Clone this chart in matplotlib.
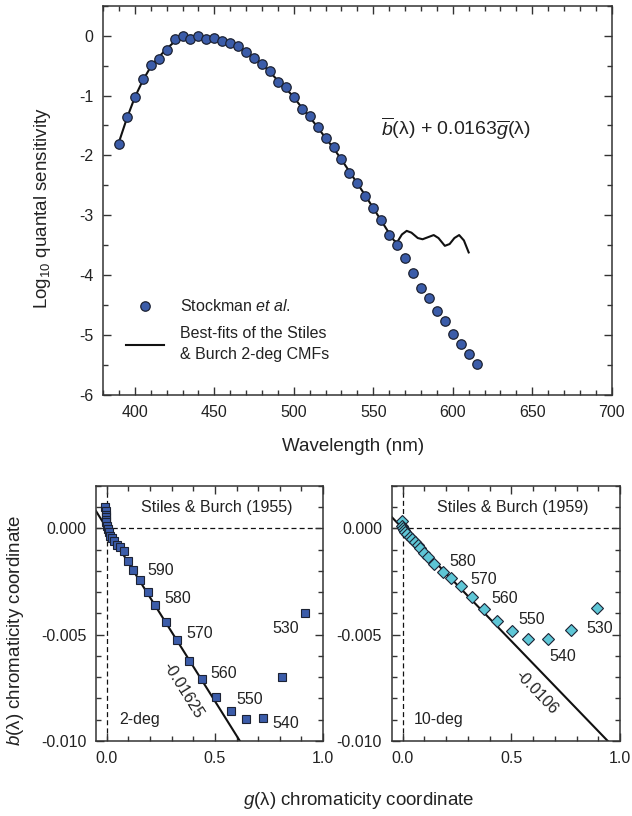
import numpy as np
import matplotlib
matplotlib.use('Agg')
import matplotlib.pyplot as plt
from matplotlib.ticker import MultipleLocator, FormatStrFormatter

plt.rcParams['font.family'] = ['Liberation Sans', 'DejaVu Sans']
plt.rcParams['mathtext.fontset'] = 'custom'
plt.rcParams['mathtext.rm'] = 'Liberation Sans'
plt.rcParams['mathtext.it'] = 'Liberation Sans:italic'
plt.rcParams['axes.unicode_minus'] = False

# top panel: measured log quantal sensitivity (points) and best fit (line)
wl_pts = [390, 395, 400, 405, 410, 415, 420, 425, 430, 435, 440, 445, 450, 455,
          460, 465, 470, 475, 480, 485, 490, 495, 500, 505, 510, 515, 520, 525,
          530, 535, 540, 545, 550, 555, 560, 565, 570, 575, 580, 585, 590, 595,
          600, 605, 610, 615]
log_pts = [-1.805, -1.36, -1.025, -0.73, -0.49, -0.385, -0.234, -0.05, 0.0, -0.05,
           0.0, -0.05, -0.045, -0.095, -0.117, -0.18, -0.28, -0.38, -0.47, -0.59,
           -0.77, -0.85, -1.025, -1.225, -1.35, -1.53, -1.715, -1.86, -2.06, -2.295,
           -2.46, -2.68, -2.875, -3.08, -3.33, -3.5, -3.72, -3.97, -4.21, -4.38,
           -4.6, -4.76, -4.975, -5.15, -5.32, -5.49]

wl_fit = [390, 395, 400, 405, 410, 415, 420, 425, 430, 435, 440, 445, 450, 455,
          460, 465, 470, 475, 480, 485, 490, 495, 500, 505, 510, 515, 520, 525,
          530, 535, 540, 545, 550, 555, 560, 563, 565, 568, 571, 574, 578, 581,
          585, 588, 591, 595, 598, 601, 604, 607, 610]
log_fit = [-1.78, -1.38, -1.03, -0.75, -0.52, -0.36, -0.22, -0.1, -0.03, 0.0,
           -0.01, -0.03, -0.05, -0.08, -0.12, -0.18, -0.27, -0.37, -0.48, -0.61,
           -0.75, -0.88, -1.03, -1.2, -1.36, -1.53, -1.71, -1.88, -2.07, -2.27,
           -2.47, -2.67, -2.88, -3.09, -3.3, -3.42, -3.45, -3.32, -3.26, -3.29,
           -3.38, -3.40, -3.36, -3.33, -3.38, -3.51, -3.48, -3.38, -3.33, -3.42, -3.62]

# bottom panels: chromaticity coordinates
g2 = [-0.008, -0.005, -0.005, -0.003, -0.006, -0.002, 0.002, 0.005, 0.008, 0.014,
      0.025, 0.035, 0.048, 0.061, 0.077, 0.098, 0.123, 0.155, 0.189, 0.224,
      0.275, 0.325, 0.378, 0.439, 0.504, 0.576, 0.645, 0.723, 0.811, 0.915]
b2 = [0.00102, 0.00083, 0.00064, 0.00052, 0.00039, 0.00028, 0.00013, -0.00003,
      -0.00019, -0.00034, -0.00045, -0.00058, -0.00077, -0.00089, -0.00105,
      -0.00152, -0.00194, -0.00242, -0.00298, -0.00362, -0.00441, -0.00523,
      -0.00623, -0.00709, -0.00795, -0.00859, -0.00898, -0.00890, -0.00697, -0.00397]
lab2 = ['590', '580', '570', '560', '550', '540', '530']
lab2_idx = [17, 19, 21, 23, 25, 27, 29]
slope2 = -0.01625

g10 = [-0.005, -0.003, 0.0, 0.004, 0.012, 0.022, 0.034, 0.045, 0.057, 0.069,
       0.081, 0.100, 0.118, 0.146, 0.184, 0.224, 0.267, 0.318, 0.372, 0.436,
       0.501, 0.578, 0.667, 0.776, 0.894]
b10 = [0.00036, 0.00012, 0.0, -0.00008, -0.00016, -0.00027, -0.00039, -0.00050,
       -0.00064, -0.00080, -0.00094, -0.00116, -0.00134, -0.00167, -0.00203,
       -0.00234, -0.00273, -0.00322, -0.00377, -0.00434, -0.00484, -0.00520,
       -0.00519, -0.00477, -0.00375]
lab10 = ['580', '570', '560', '550', '540', '530']
lab10_idx = [14, 16, 18, 20, 22, 24]
slope10 = -0.0106

blue = '#3b5ca9'
cyan = '#5ec6d6'
edge = '#1c2233'
axcol = '#333333'
tick_fs = 11.5
lab_fs = 13.5

fig = plt.figure(figsize=(6.32, 8.16), dpi=100)


def style_axes(ax):
    for s in ax.spines.values():
        s.set_color(axcol)
        s.set_linewidth(1.1)
    ax.tick_params(which='both', direction='in', top=True, right=True,
                   color=axcol, labelcolor='#222222', labelsize=tick_fs, pad=7)
    ax.tick_params(which='major', length=6, width=1)
    ax.tick_params(which='minor', length=3.5, width=1)


# ---- top panel
ax = fig.add_axes([0.163, 0.516, 0.805, 0.477])
ax.plot(wl_fit, log_fit, color='#111111', lw=1.5, zorder=2,
        label='Best-fits of the Stiles\n& Burch 2-deg CMFs')
ax.plot(wl_pts, log_pts, 'o', ms=6.8, mfc=blue, mec=edge, mew=0.9, zorder=3,
        label='Stockman $\\mathit{et\\ al.}$')
ax.set_xlim(380, 700)
ax.set_ylim(-6, 0.5)
ax.xaxis.set_major_locator(MultipleLocator(50))
ax.xaxis.set_minor_locator(MultipleLocator(10))
ax.yaxis.set_major_locator(MultipleLocator(1))
ax.yaxis.set_minor_locator(MultipleLocator(0.5))
style_axes(ax)
ax.text(555, -1.55, r'$\overline{\mathit{b}}$(λ) + 0.0163$\overline{\mathit{g}}$(λ)',
        fontsize=14, va='center', ha='left', color='#222222')
h, l = ax.get_legend_handles_labels()
leg = ax.legend(h[::-1], l[::-1], loc='lower left', bbox_to_anchor=(0.045, 0.085),
                frameon=False, fontsize=tick_fs, handlelength=2.4, handletextpad=1.0,
                borderpad=0, borderaxespad=0, labelspacing=0.75, labelcolor='#222222')
for t in leg.get_texts():
    t.set_linespacing(1.45)

fig.text(0.559, 0.453, 'Wavelength (nm)', fontsize=lab_fs, ha='center', va='center',
         color='#222222')
fig.text(0.068, 0.745, 'Log$_{10}$ quantal sensitivity', fontsize=lab_fs, rotation=90,
         ha='center', va='center', color='#222222')


def chroma_panel(rect, g, b, slope, marker, color, ms, labels, idx, offsets,
                 slope_text, slope_xy, title, deg_text, deg_g):
    a = fig.add_axes(rect)
    a.axhline(0, color='#111111', lw=0.9, ls=(0, (4, 2.5)), zorder=1)
    a.axvline(0, color='#111111', lw=0.9, ls=(0, (4, 2.5)), zorder=1)
    gl = np.array([-0.05, 1.0])
    a.plot(gl, slope * gl, color='#111111', lw=1.5, zorder=2)
    a.plot(g, b, marker, ls='none', ms=ms, mfc=color, mec=edge, mew=0.8, zorder=3)
    a.set_xlim(-0.05, 1.0)
    a.set_ylim(-0.010, 0.002)
    a.xaxis.set_major_locator(MultipleLocator(0.5))
    a.xaxis.set_minor_locator(MultipleLocator(0.1))
    a.yaxis.set_major_locator(MultipleLocator(0.005))
    a.yaxis.set_minor_locator(MultipleLocator(0.001))
    a.xaxis.set_major_formatter(FormatStrFormatter('%.1f'))
    a.yaxis.set_major_formatter(FormatStrFormatter('%.3f'))
    style_axes(a)
    for lab, i, (dx, dy, ha) in zip(labels, idx, offsets):
        a.annotate(lab, xy=(g[i], b[i]), xytext=(dx, dy), textcoords='offset points',
                   ha=ha, va='center', fontsize=tick_fs, color='#222222')
    p0 = a.transData.transform((0, 0))
    p1 = a.transData.transform((1, slope))
    ang = np.degrees(np.arctan2(p1[1] - p0[1], p1[0] - p0[0]))
    a.text(slope_xy[0], slope_xy[1], slope_text, rotation=ang, rotation_mode='anchor',
           ha='center', va='center', fontsize=tick_fs, color='#222222')
    a.text(0.53, 0.915, title, transform=a.transAxes, ha='center', va='center',
           fontsize=tick_fs, color='#222222')
    a.text(deg_g, -0.0090, deg_text, ha='left', va='center', fontsize=tick_fs,
           color='#222222')
    return a


off2 = [(5, 6.5, 'left'), (6.5, 5, 'left'), (6.5, 4.3, 'left'), (6.5, 4.3, 'left'),
        (3.6, 8, 'left'), (6.5, -4.3, 'left'), (-4.3, -11.5, 'right')]
chroma_panel([0.152, 0.092, 0.359, 0.3125], g2, b2, slope2, 's', blue, 6.2,
             lab2, lab2_idx, off2, '-0.01625', (0.35, -0.0076),
             'Stiles & Burch (1955)', '2-deg', 0.057)

off10 = [(5, 7, 'left'), (7, 5, 'left'), (6, 7, 'left'), (5, 8.6, 'left'),
         (11, -13, 'center'), (2, -14.4, 'center')]
chroma_panel([0.620, 0.092, 0.361, 0.3125], g10, b10, slope10, 'D', cyan, 6.3,
             lab10, lab10_idx, off10, '-0.0106', (0.617, -0.00773),
             'Stiles & Burch (1959)', '10-deg', 0.049)

fig.text(0.024, 0.228, r'$\mathit{b}$(λ) chromaticity coordinate', fontsize=lab_fs,
         rotation=90, ha='center', va='center', color='#222222')
fig.text(0.568, 0.0196, r'$\mathit{g}$(λ) chromaticity coordinate', fontsize=lab_fs,
         ha='center', va='center', color='#222222')

fig.savefig('out.png', dpi=100)
